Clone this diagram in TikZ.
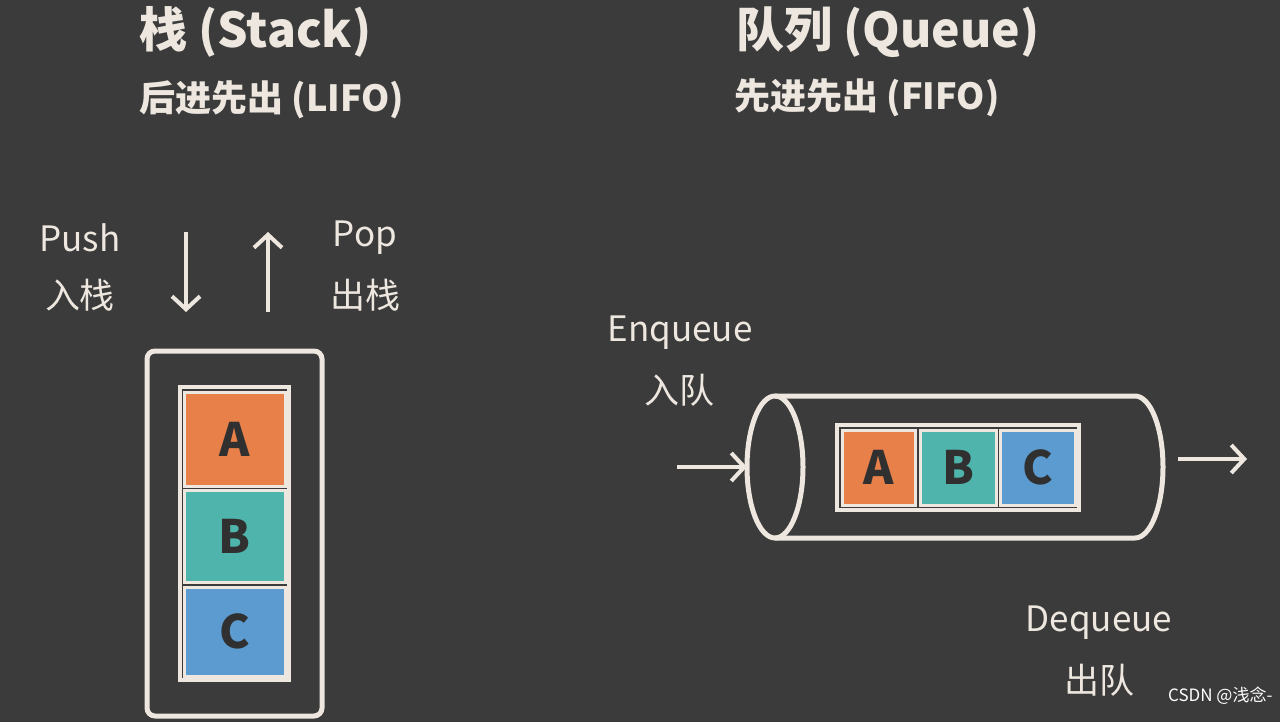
\documentclass[tikz,border=0pt]{standalone}
\usepackage{fontspec}
\setmainfont{Noto Sans CJK SC}
\usetikzlibrary{arrows.meta}
\usetikzlibrary{positioning}
\definecolor{bg}{HTML}{3B3B3B}
\definecolor{ink}{HTML}{EDE7DF}
\definecolor{dark}{HTML}{303030}
\definecolor{orng}{HTML}{E8804A}
\definecolor{teal}{HTML}{4FB5AC}
\definecolor{blu}{HTML}{5B9BD0}
\begin{document}
\begin{tikzpicture}[x=1pt,y=-1pt,>={Straight Barb[length=13pt,width=28pt,line width=4pt]},
    title/.style={text=ink,font=\fontsize{48}{52}\selectfont\bfseries},
    sub/.style={text=ink,font=\fontsize{36}{40}\selectfont\bfseries},
    lbl/.style={text=ink,font=\fontsize{35}{40}\selectfont},
    box/.style={draw=ink,line width=3pt,minimum width=#1,inner sep=0pt,text=dark,font=\fontsize{46}{50}\selectfont\bfseries},
    wire/.style={ink,line width=4pt,->}]
  \fill[bg] (0,0) rectangle (1280,722);
  \useasboundingbox (0,0) rectangle (1280,722);
  % titles
  \node[title,anchor=west] (st) at (136,32) {栈 (Stack)};
  \node[sub,anchor=west] (stsub) at (136,100) {后进先出 (LIFO)};
  \node[title,anchor=west] (qt) at (733,32) {队列 (Queue)};
  \node[sub,anchor=west] (qtsub) at (731,98) {先进先出 (FIFO)};
  % stack
  \node[lbl] (push) at (80,238) {Push};
  \node[lbl] (pushcn) at (80,295) {入栈};
  \node[lbl] (pop) at (365,238) {Pop};
  \node[lbl] (popcn) at (365,295) {出栈};
  \coordinate (pa) at (186,232);
  \coordinate (pb) at (186,312);
  \coordinate (qa) at (268,312);
  \coordinate (qb) at (268,232);
  \draw[wire] (pa) -- (pb);
  \draw[wire] (qa) -- (qb);
  \draw[ink,line width=5pt,rounded corners=8pt] (147,351) rectangle (322,716);
  \draw[ink,line width=4pt] (180,387) rectangle (289,680);
  \node[box=101pt,minimum height=94pt,fill=orng] (sa) at (234.5,439) {A};
  \node[box=101pt,minimum height=92pt,fill=teal] (sb) at (234.5,536) {B};
  \node[box=101pt,minimum height=89pt,fill=blu] (sc) at (234.5,631.5) {C};
  % queue
  \node[lbl] (enq) at (680,333) {Enqueue};
  \node[lbl] (enqcn) at (679,390) {入队};
  \node[lbl] (deq) at (1099,623) {Dequeue};
  \node[lbl] (deqcn) at (1099,680) {出队};
  \draw[ink,line width=5pt] (775,396) -- (1135,396) arc[start angle=-90,end angle=90,x radius=28,y radius=71] -- (775,538);
  \draw[ink,line width=5pt] (775,467) ellipse[x radius=28,y radius=71];
  \draw[ink,line width=4pt] (837,425) rectangle (1079,510);
  \node[box=73pt,minimum height=75pt,fill=orng] (qa1) at (878.5,467.5) {A};
  \node[box=76pt,minimum height=75pt,fill=teal] (qb1) at (958,467.5) {B};
  \node[box=75pt,minimum height=75pt,fill=blu] (qc1) at (1037.5,467.5) {C};
  \coordinate (ina) at (677,467);
  \coordinate (inb) at (747,467);
  \coordinate (outa) at (1178,459);
  \coordinate (outb) at (1247,459);
  \draw[wire] (ina) -- (inb);
  \draw[wire] (outa) -- (outb);
  \node[text=white,font=\fontsize{17}{19}\selectfont,anchor=east] (mark) at (1276,696) {CSDN @浅念-};
\end{tikzpicture}
\end{document}
